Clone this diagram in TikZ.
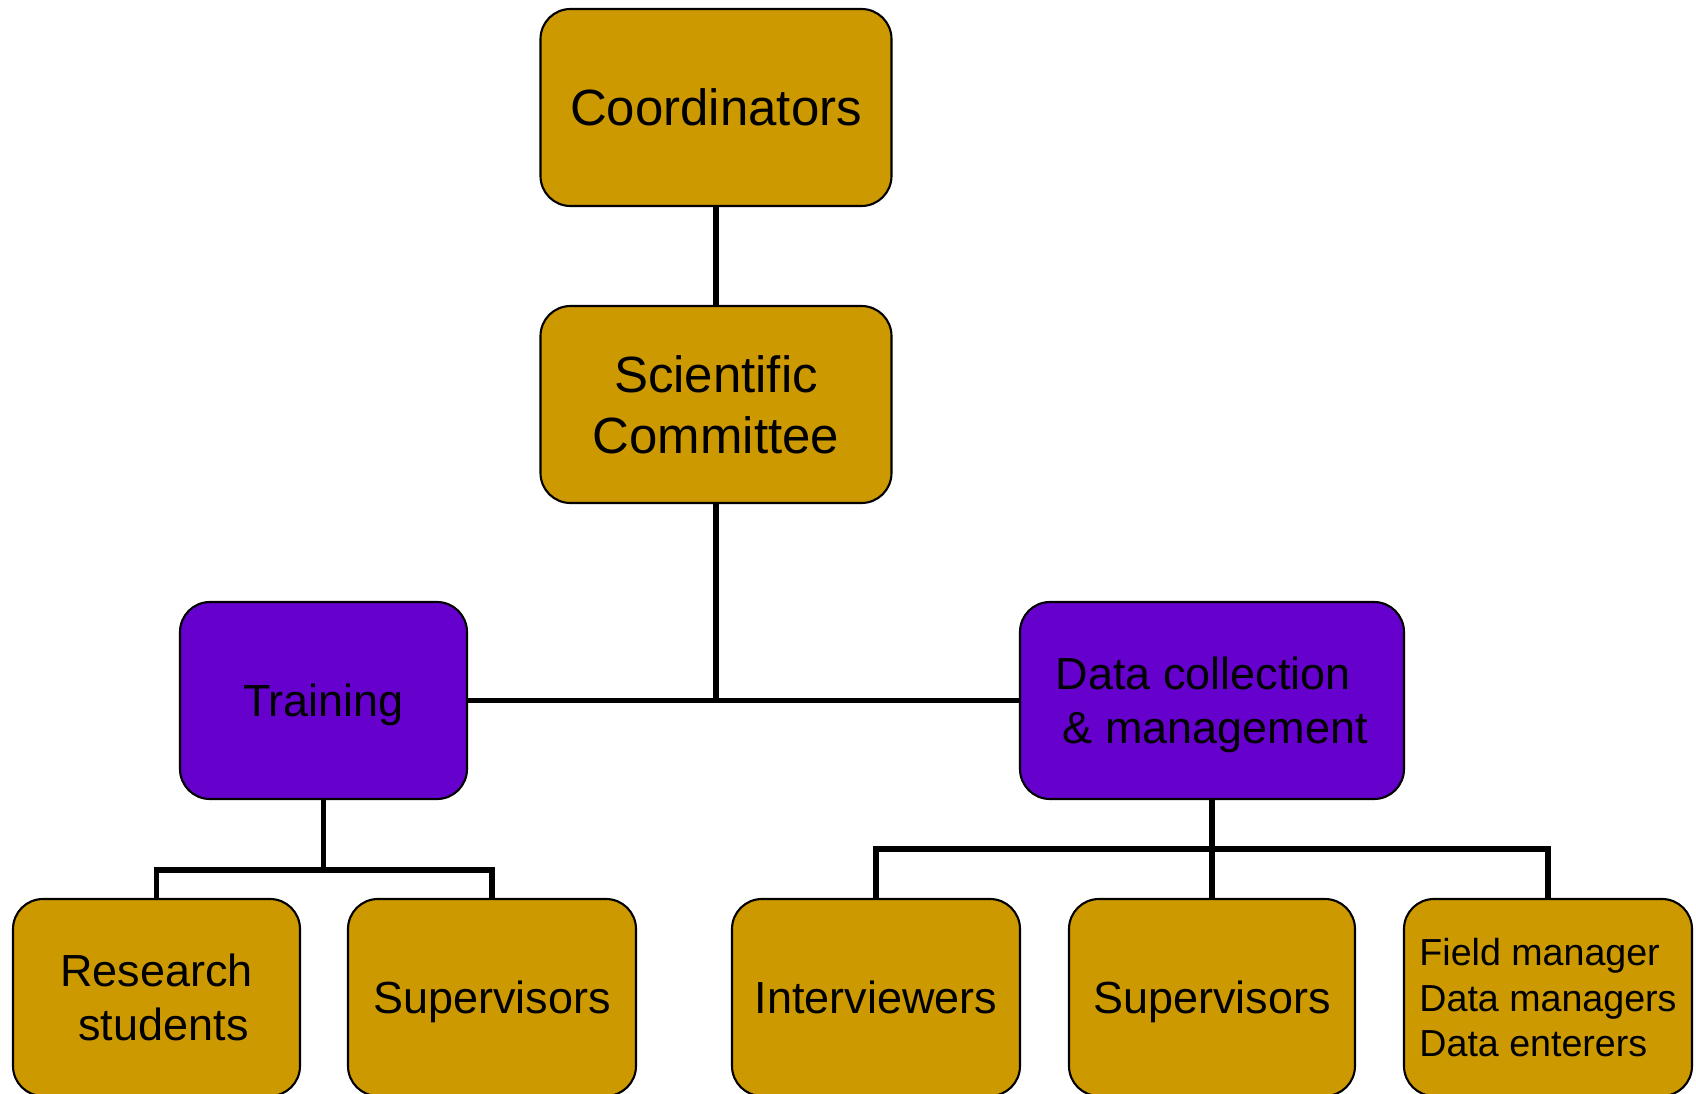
\documentclass[tikz,border=0pt]{standalone}
\usepackage{fontspec}
\setmainfont{Liberation Sans}
\definecolor{gold}{RGB}{204,153,0}
\definecolor{violet}{RGB}{102,0,204}
\begin{document}
\begin{tikzpicture} [box/.style={draw=black, line width=0.6pt, rounded corners=0.3cm, inner sep=0pt, minimum height=1.97cm, text depth=0pt, font=\fontsize{12.8}{15.4}\selectfont},
goldbox/.style={box, fill=gold},
violetbox/.style={box, fill=violet},
conn/.style={line width=1.5pt, line join=miter}]
\useasboundingbox (0,0) rectangle (16.96,-10.94);
\node[goldbox, minimum width=3.51cm, font=\fontsize{14.5}{17.4}\selectfont] (coord) at (7.16,-1.075) {Coordinators};
\node[goldbox, minimum width=3.51cm, align=center, font=\fontsize{14.5}{17.4}\selectfont] (sci) at (7.16,-4.045) {Scientific\\Committee};
\node[violetbox, minimum width=2.87cm] (train) at (3.235,-7.005) {Training};
\node[violetbox, minimum width=3.84cm, align=left] (dcm) at (12.12,-7.005) {Data collection\\\hspace{2pt}\& management};
\node[goldbox, minimum width=2.87cm, align=center] (rs) at (1.565,-9.975) {Research\\\hspace{4pt}students};
\node[goldbox, minimum width=2.88cm] (sup1) at (4.92,-9.975) {Supervisors};
\node[goldbox, minimum width=2.88cm] (intv) at (8.76,-9.975) {Interviewers};
\node[goldbox, minimum width=2.86cm] (sup2) at (12.12,-9.975) {Supervisors};
\node[goldbox, minimum width=2.88cm, align=left, font=\fontsize{10.7}{12.9}\selectfont] (field) at (15.48,-9.975) {Field manager\\Data managers\\Data enterers};
\coordinate (jmain) at (sci.south |- train.east);
\coordinate (jtrain) at (3.235,-8.70);
\coordinate (jdata) at (12.12,-8.49);
\draw[conn] (coord) -- (sci);
\draw[conn] (sci) -- (jmain);
\draw[conn] (train) -- (jmain) -- (dcm);
\draw[conn] (train) -- (jtrain);
\draw[conn] (rs.north) |- (jtrain) -| (sup1.north);
\draw[conn] (dcm) -- (sup2);
\draw[conn] (intv.north) |- (jdata) -| (field.north);
\end{tikzpicture}
\end{document}
